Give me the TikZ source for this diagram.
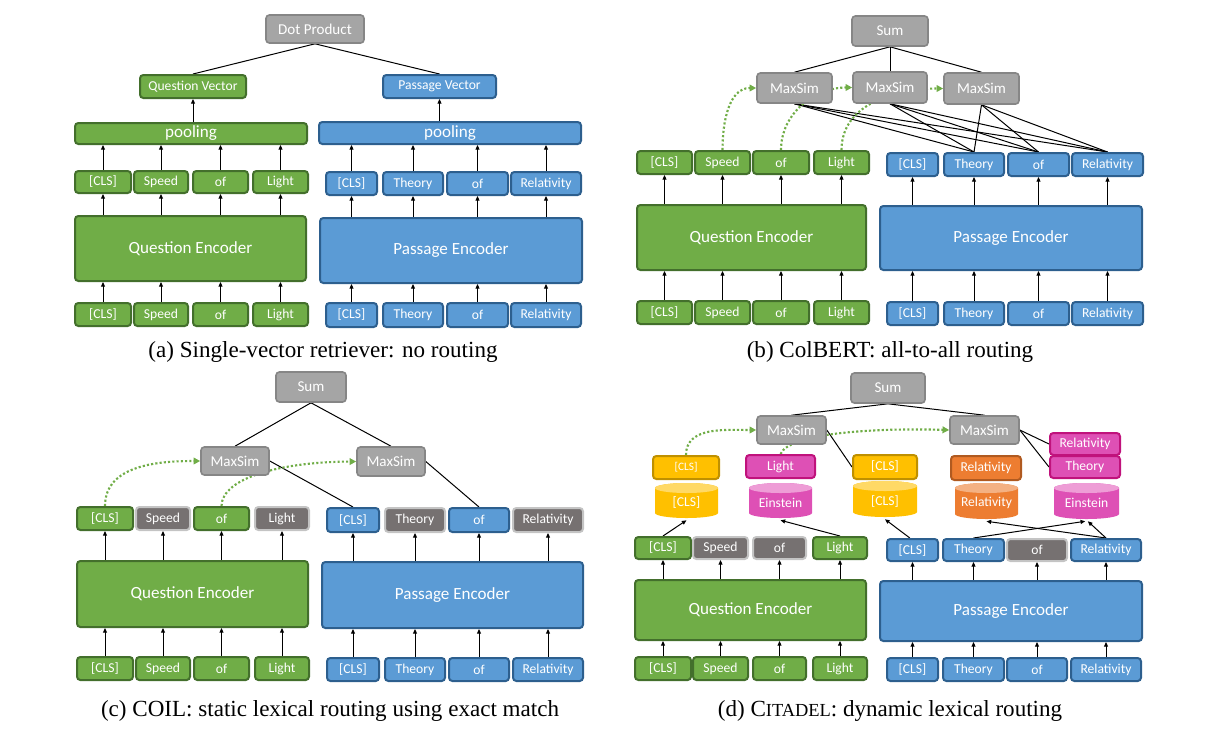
\documentclass[tikz,border=0pt]{standalone}
\usepackage{fontspec}
\setmainfont{Liberation Serif}
\newfontfamily\boxfont{Carlito}
\usetikzlibrary{arrows.meta}
\pgfdeclarelayer{bg}
\pgfsetlayers{bg,main}
\definecolor{gfill}{HTML}{70AD47}
\definecolor{gline}{HTML}{436F2C}
\definecolor{bfill}{HTML}{5B9BD5}
\definecolor{bline}{HTML}{2D5F8E}
\definecolor{mfill}{HTML}{A5A5A5}
\definecolor{mline}{HTML}{868686}
\definecolor{tfill}{HTML}{767171}
\definecolor{tline}{HTML}{C4C4C4}
\definecolor{yfill}{HTML}{FFC000}
\definecolor{yline}{HTML}{BF9000}
\definecolor{ytop}{HTML}{FFD966}
\definecolor{pfill}{HTML}{DE50B5}
\definecolor{pline}{HTML}{C0127C}
\definecolor{ptop}{HTML}{EE9DD6}
\definecolor{ofill}{HTML}{ED7D31}
\definecolor{oline}{HTML}{B05A20}
\definecolor{otop}{HTML}{F4B183}
\definecolor{dotg}{HTML}{70AD47}
\newcommand\bx[7]{%
  \pgfmathsetmacro\cxx{(#3+#5)/2}%
  \pgfmathsetmacro\cyy{(#4+#6)/2}%
  \pgfmathsetmacro\ww{(#5-#3)*0.75}%
  \pgfmathsetmacro\hh{(#6-#4)*0.75}%
  \node[#1, minimum width=\ww pt, minimum height=\hh pt] (#2) at (\cxx,\cyy) {#7};}
\newcommand\cyl[8]{%
  \pgfmathsetmacro\cxx{(#2+#4)/2}%
  \pgfmathsetmacro\cyy{(#3+#5)/2}%
  \pgfmathsetmacro\rxx{(#4-#2)*0.375}%
  \pgfmathsetmacro\ww{(#4-#2)*0.75}%
  \pgfmathsetmacro\hh{(#5-#3)*0.75}%
  \pgfmathsetmacro\cyYt{#3+5}%
  \pgfmathsetmacro\cyYb{#5-5}%
  \fill[#6] (#2,\cyYt) -- (#2,\cyYb) arc[start angle=180,end angle=360,x radius=\rxx pt,y radius=3.75pt] -- (#4,\cyYt) arc[start angle=0,end angle=180,x radius=\rxx pt,y radius=3.75pt] -- cycle;
  \fill[#7] (\cxx,\cyYt) ellipse[x radius=\rxx pt, y radius=3.75pt];
  \node[cyltext, minimum width=\ww pt, minimum height=\hh pt] (#1) at (\cxx,\cyy+2) {#8};}
\begin{document}
\begin{tikzpicture}[x=0.75pt,y=-0.75pt,
  box/.style={rounded corners=2.5pt, line width=1.5pt, inner sep=0pt, text=white, font=\boxfont\fontsize{10.2}{12}\selectfont},
  gbox/.style={box, fill=gfill, draw=gline},
  bbox/.style={box, fill=bfill, draw=bline},
  tbox/.style={box, fill=tfill, draw=tline},
  ybox/.style={box, fill=yfill, draw=yline},
  pbox/.style={box, fill=pfill, draw=pline},
  obox/.style={box, fill=ofill, draw=oline},
  mbox/.style={box, fill=mfill, draw=mline, line width=1.2pt, font=\boxfont\fontsize{11.3}{13}\selectfont},
  gbig/.style={gbox, font=\boxfont\fontsize{12.8}{15}\selectfont},
  bbig/.style={bbox, font=\boxfont\fontsize{12.8}{15}\selectfont},
  cyltext/.style={inner sep=0pt, text=white, font=\boxfont\fontsize{10.2}{12}\selectfont},
  arr/.style={line width=0.75pt, -{Triangle[length=3.5pt,width=3pt]}},
  conn/.style={line width=0.75pt},
  dotarr/.style={draw=dotg, line width=1.6pt, dash pattern=on 1.6pt off 1.6pt, -{Triangle[length=5pt,width=5pt]}},
  captxt/.style={inner sep=0pt, font=\fontsize{17.3}{20}\selectfont}]
\useasboundingbox (0,0) rectangle (1224,733);
% ---------------- (a)
\bx{mbox}{aDot}{266}{15}{364}{43}{Dot Product}
\bx{gbox}{aQV}{140}{75}{246}{98}{Question Vector}
\bx{bbox}{aPV}{383}{75}{496}{98}{Passage Vector}
\bx{gbig}{aQpool}{75}{123}{307}{144}{pooling}
\bx{bbig}{aPpool}{319}{122}{581}{144}{pooling}
\bx{gbox}{aQ1}{75}{171}{131}{193}{[CLS]}
\bx{gbox}{aQ2}{134}{171}{188}{193}{Speed}
\bx{gbox}{aQ3}{193}{171}{248}{193}{of}
\bx{gbox}{aQ4}{253}{171}{308}{193}{Light}
\bx{bbox}{aP1}{326}{172}{377}{195}{[CLS]}
\bx{bbox}{aP2}{383}{172}{443}{195}{Theory}
\bx{bbox}{aP3}{447}{172}{508}{195}{of}
\bx{bbox}{aP4}{511}{172}{581}{195}{Relativity}
\bx{gbig}{aQE}{75}{216}{306}{281}{Question Encoder}
\bx{bbig}{aPE}{320}{218}{582}{283}{Passage Encoder}
\bx{gbox}{aQb1}{75}{303}{131}{326}{[CLS]}
\bx{gbox}{aQb2}{134}{303}{188}{326}{Speed}
\bx{gbox}{aQb3}{193}{303}{248}{326}{of}
\bx{gbox}{aQb4}{253}{303}{308}{326}{Light}
\bx{bbox}{aPb1}{326}{303}{377}{327}{[CLS]}
\bx{bbox}{aPb2}{383}{303}{443}{327}{Theory}
\bx{bbox}{aPb3}{447}{303}{508}{327}{of}
\bx{bbox}{aPb4}{511}{303}{581}{327}{Relativity}
\node[captxt] (capa) at (323,352) {(a) Single-vector retriever: no routing};
% ---------------- (b)
\bx{mbox}{bSum}{852}{16}{928}{46}{Sum}
\bx{mbox}{bM1}{757}{73}{832}{103}{MaxSim}
\bx{mbox}{bM2}{853}{72}{927}{103}{MaxSim}
\bx{mbox}{bM3}{944}{73}{1019}{104}{MaxSim}
\bx{gbox}{bQ1}{637}{151}{692}{174}{[CLS]}
\bx{gbox}{bQ2}{695}{151}{750}{174}{Speed}
\bx{gbox}{bQ3}{753}{151}{809}{174}{of}
\bx{gbox}{bQ4}{814}{151}{869}{174}{Light}
\bx{bbox}{bP1}{887}{153}{938}{176}{[CLS]}
\bx{bbox}{bP2}{944}{153}{1004}{176}{Theory}
\bx{bbox}{bP3}{1008}{153}{1069}{176}{of}
\bx{bbox}{bP4}{1072}{153}{1143}{176}{Relativity}
\bx{gbig}{bQE}{637}{205}{866}{270}{Question Encoder}
\bx{bbig}{bPE}{880}{206}{1142}{270}{Passage Encoder}
\bx{gbox}{bQb1}{637}{301}{692}{324}{[CLS]}
\bx{gbox}{bQb2}{695}{301}{750}{324}{Speed}
\bx{gbox}{bQb3}{753}{301}{809}{324}{of}
\bx{gbox}{bQb4}{814}{301}{869}{324}{Light}
\bx{bbox}{bPb1}{887}{302}{938}{325}{[CLS]}
\bx{bbox}{bPb2}{944}{302}{1004}{325}{Theory}
\bx{bbox}{bPb3}{1008}{302}{1069}{325}{of}
\bx{bbox}{bPb4}{1072}{302}{1143}{325}{Relativity}
\node[captxt] (capb) at (890,352) {(b) ColBERT: all-to-all routing};
% ---------------- (c)
\bx{mbox}{cSum}{276}{372}{346}{402}{Sum}
\bx{mbox}{cM1}{201}{447}{269}{475}{MaxSim}
\bx{mbox}{cM2}{357}{447}{425}{476}{MaxSim}
\bx{gbox}{cQ1}{77}{507}{133}{530}{[CLS]}
\bx{tbox}{cQ2}{136}{507}{190}{530}{Speed}
\bx{gbox}{cQ3}{194}{507}{249}{530}{of}
\bx{tbox}{cQ4}{255}{507}{309}{530}{Light}
\bx{bbox}{cP1}{327}{508}{379}{532}{[CLS]}
\bx{tbox}{cP2}{385}{508}{445}{532}{Theory}
\bx{bbox}{cP3}{449}{508}{509}{532}{of}
\bx{tbox}{cP4}{513}{508}{583}{532}{Relativity}
\bx{gbig}{cQE}{77}{561}{308}{627}{Question Encoder}
\bx{bbig}{cPE}{322}{562}{583}{628}{Passage Encoder}
\bx{gbox}{cQb1}{77}{657}{133}{680}{[CLS]}
\bx{gbox}{cQb2}{136}{657}{190}{680}{Speed}
\bx{gbox}{cQb3}{194}{657}{249}{680}{of}
\bx{gbox}{cQb4}{255}{657}{309}{680}{Light}
\bx{bbox}{cPb1}{327}{658}{379}{681}{[CLS]}
\bx{bbox}{cPb2}{385}{658}{445}{681}{Theory}
\bx{bbox}{cPb3}{449}{658}{509}{681}{of}
\bx{bbox}{cPb4}{513}{658}{583}{681}{Relativity}
\node[captxt] (capc) at (330,711) {(c) COIL: static lexical routing using exact match};
% ---------------- (d)
\bx{mbox}{dSum}{851}{373}{925}{403}{Sum}
\bx{mbox}{dM1}{757}{416}{826}{444}{MaxSim}
\bx{mbox}{dM2}{950}{416}{1019}{444}{MaxSim}
\bx{ybox, font=\boxfont\fontsize{8.5}{10}\selectfont}{dY1}{653}{456}{719}{479}{[CLS]}
\cyl{dC1}{655}{483}{718}{518}{yfill}{ytop}{[CLS]}
\bx{pbox}{dPL}{746}{455}{815}{478}{Light}
\cyl{dE1}{749}{483}{812}{518}{pfill}{ptop}{Einstein}
\bx{ybox}{dY2}{853}{455}{917}{479}{[CLS]}
\cyl{dC2}{853}{481}{917}{517}{yfill}{ytop}{[CLS]}
\bx{obox}{dOR}{951}{456}{1021}{480}{Relativity}
\cyl{dO}{955}{483}{1018}{519}{ofill}{otop}{Relativity}
\bx{pbox}{dPR}{1050}{433}{1120}{455}{Relativity}
\bx{pbox}{dPT}{1050}{456}{1120}{478}{Theory}
\cyl{dE2}{1054}{483}{1119}{519}{pfill}{ptop}{Einstein}
\bx{gbox}{dQ1}{635}{537}{691}{559}{[CLS]}
\bx{tbox}{dQ2}{693}{537}{748}{559}{Speed}
\bx{tbox}{dQ3}{753}{537}{806}{559}{of}
\bx{gbox}{dQ4}{813}{537}{867}{559}{Light}
\bx{bbox}{dP1}{887}{539}{938}{561}{[CLS]}
\bx{bbox}{dP2}{943}{539}{1004}{561}{Theory}
\bx{tbox}{dP3}{1007}{539}{1067}{561}{of}
\bx{bbox}{dP4}{1071}{539}{1141}{561}{Relativity}
\bx{gbig}{dQE}{635}{580}{866}{640}{Question Encoder}
\bx{bbig}{dPE}{880}{581}{1142}{641}{Passage Encoder}
\bx{gbox}{dQb1}{635}{657}{691}{680}{[CLS]}
\bx{gbox}{dQb2}{693}{657}{748}{680}{Speed}
\bx{gbox}{dQb3}{753}{657}{806}{680}{of}
\bx{gbox}{dQb4}{813}{657}{867}{680}{Light}
\bx{bbox}{dPb1}{887}{658}{938}{681}{[CLS]}
\bx{bbox}{dPb2}{943}{658}{1004}{681}{Theory}
\bx{bbox}{dPb3}{1007}{658}{1067}{681}{of}
\bx{bbox}{dPb4}{1071}{658}{1141}{681}{Relativity}
\node[captxt] (capd) at (890,711) {(d) C{\fontsize{13.8}{20}\selectfont ITADEL}: dynamic lexical routing};
% ---------------- connectors
\begin{pgfonlayer}{bg}
\foreach \p in {a,b,c,d} {
  \foreach \i in {1,2,3,4} {
    \draw[arr] (\p Qb\i.north) -- (\p Qb\i.north |- \p QE.south);
    \draw[arr] (\p Pb\i.north) -- (\p Pb\i.north |- \p PE.south);
    \draw[arr] (\p Q\i.south |- \p QE.north) -- (\p Q\i.south);
    \draw[arr] (\p P\i.south |- \p PE.north) -- (\p P\i.south);
  }
}
% (a)
\draw[conn] (aDot.south) -- (aQV.north);
\draw[conn] (aDot.south) -- (aPV.north);
\draw[arr] (aQpool.north -| aQV.south) -- (aQV.south);
\draw[arr] (aPpool.north -| aPV.south) -- (aPV.south);
\foreach \i in {1,2,3,4} {
  \draw[arr] (aQ\i.north) -- (aQ\i.north |- aQpool.south);
  \draw[arr] (aP\i.north) -- (aP\i.north |- aPpool.south);
}
% (b)
\foreach \m in {bM1,bM2,bM3} {
  \draw[conn] (bSum.south) -- (\m.north);
  \foreach \t in {bP2,bP3,bP4} \draw[conn] (\m.south) -- (\t.north);
}
\draw[dotarr] (bQ2.north) to[out=90,in=180] (bM1.west);
\draw[dotarr] (bQ3.north) to[out=90,in=180] (bM2.west);
\draw[dotarr] (bQ4.north) to[out=90,in=180] (bM3.west);
% (c)
\draw[conn] (cSum.south) -- (cM1.north);
\draw[conn] (cSum.south) -- (cM2.north);
\draw[conn] (cM1.east) -- (cP1.north);
\draw[conn] (cM2.east) -- (cP3.north);
\draw[dotarr] (cQ1.north) to[out=90,in=180] (cM1.west);
\draw[dotarr] (cQ3.north) .. controls (222,478) and (280,462) .. (cM2.west);
% (d)
\draw[conn] (dSum.south) -- (dM1.north);
\draw[conn] (dSum.south) -- (dM2.north);
\draw[conn] (dM1.east) -- (dY2.west);
\draw[conn] (dM2.east) -- (dPR.west);
\draw[conn] (dM2.east) -- (dPT.west);
\draw[dotarr] (dY1.north) to[out=90,in=180] (dM1.west);
\draw[dotarr] (dPL.north) .. controls (790,432) and (880,428) .. (dM2.west);
\draw[arr] (dQ1.north) -- (dC1.south);
\draw[arr] (dQ4.north) -- (dE1.south);
\draw[arr] ([xshift=-2pt]dP1.north) -- (dC2.south);
\draw[arr] (dP2.north) -- ([xshift=-1pt]dE2.south);
\draw[arr] (dP4.north) -- (dO.south);
\draw[arr] (dP4.north) -- ([xshift=1pt]dE2.south);
\end{pgfonlayer}
\end{tikzpicture}
\end{document}
